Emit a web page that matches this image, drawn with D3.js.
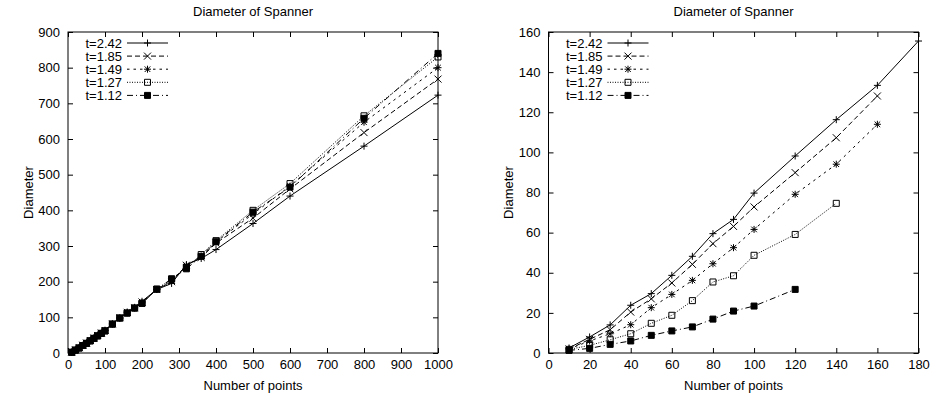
<!DOCTYPE html>
<html>
<head>
<meta charset="utf-8">
<script src="https://cdn.jsdelivr.net/npm/d3@7"></script>
<style>
  body { margin: 0; background: #fff; }
</style>
</head>
<body>
<svg id="chart" width="932" height="394"></svg>
<script>
// ---- data ----
const seriesLabels = ['t=2.42', 't=1.85', 't=1.49', 't=1.27', 't=1.12'];

// left panel: up to 1000 points
const leftPoints = [10, 20, 30, 40, 50, 60, 70, 80, 90, 100, 120, 140, 160, 180, 200, 240, 280, 320, 360, 400, 500, 600, 800, 1000];
const leftT242 = [3, 9, 15, 22, 28, 35, 42, 50, 56, 64, 82, 98, 115, 128, 145, 178, 195, 248, 265, 290, 363, 440, 580, 723];
const leftT185 = [3, 9, 15, 22, 28, 35, 42, 49, 56, 63, 82, 99, 114, 127, 143, 178, 200, 246, 268, 308, 378, 460, 618, 768];
const leftT149 = [2, 8, 14, 21, 28, 34, 42, 49, 55, 63, 81, 98, 113, 126, 141, 178, 203, 245, 272, 311, 390, 468, 647, 800];
const leftT127 = [2, 8, 14, 21, 27, 34, 41, 48, 55, 62, 81, 98, 112, 126, 140, 179, 207, 240, 276, 315, 400, 475, 665, 830];
const leftT112 = [2, 8, 14, 21, 27, 34, 41, 48, 55, 62, 81, 98, 112, 126, 139, 179, 208, 236, 271, 312, 395, 465, 658, 840];

// right panel: small instances
const rightPoints = [10, 20, 30, 40, 50, 60, 70, 80, 90, 100, 120, 140, 160, 180];
const rightT242 = [2.5, 8, 14, 23.8, 29.6, 38.7, 48.2, 59.5, 66.6, 79.7, 98.2, 116.3, 133.4, 155.5];
const rightT185 = [2, 6.8, 11.6, 20.4, 27, 34.9, 44.2, 54.5, 63.1, 72.8, 89.9, 107.3, 128.1];
const rightT149 = [2, 6, 9.6, 14.1, 22.6, 29.2, 36.2, 44.5, 52.5, 61.6, 79.1, 94.1, 114];
const rightT127 = [1.8, 3.8, 6.6, 9.6, 14.8, 18.8, 26.1, 35.4, 38.5, 48.7, 59.1, 74.6];
const rightT112 = [1.3, 2.3, 4.3, 6, 8.8, 11, 13, 16.9, 20.9, 23.4, 31.7];

const leftXTicks = [0, 100, 200, 300, 400, 500, 600, 700, 800, 900, 1000];
const leftYTicks = [0, 100, 200, 300, 400, 500, 600, 700, 800, 900];
const rightXTicks = [0, 20, 40, 60, 80, 100, 120, 140, 160, 180];
const rightYTicks = [0, 20, 40, 60, 80, 100, 120, 140, 160];

// ---- styles (gnuplot-like) ----
const FONT = '"Liberation Sans", Arial, Helvetica, sans-serif';
const lineDash = [null, '5,3', '2.5,4', '1,1.5', '6,3,1,3'];
const markerShape = ['plus', 'cross', 'star', 'box', 'filledBox'];

function markerPath(shape) {
  const s = 3.5, b = 3;
  if (shape === 'plus') return `M${-s},0H${s}M0,${-s}V${s}`;
  if (shape === 'cross') return `M${-s},${-s}L${s},${s}M${-s},${s}L${s},${-s}`;
  if (shape === 'star') return `M${-s},0H${s}M0,${-s}V${s}M${-s * 0.8},${-s * 0.8}L${s * 0.8},${s * 0.8}M${-s * 0.8},${s * 0.8}L${s * 0.8},${-s * 0.8}`;
  return `M${-b},${-b}H${b}V${b}H${-b}Z`;
}

const svg = d3.select('#chart');

function addText(parent) {
  return parent.append('text')
    .style('font-family', FONT)
    .style('font-size', '13px')
    .attr('fill', '#000');
}

function drawPanel(cfg) {
  const width = cfg.right - cfg.left;
  const height = cfg.bottom - cfg.top;
  const g = svg.append('g').attr('transform', `translate(${cfg.left},${cfg.top})`);

  const x = d3.scaleLinear().domain([cfg.xTicks[0], cfg.xTicks[cfg.xTicks.length - 1]]).range([0, width]);
  const y = d3.scaleLinear().domain([cfg.yTicks[0], cfg.yTicks[cfg.yTicks.length - 1]]).range([height, 0]);

  // axes with inward ticks, mirrored on top/right
  const styleAxis = (sel) => {
    sel.select('.domain').remove();
    sel.selectAll('line').attr('stroke', '#000');
    sel.selectAll('text')
      .style('font-family', FONT)
      .style('font-size', '13px')
      .attr('fill', '#000');
  };
  g.append('g').attr('transform', `translate(0,${height})`)
    .call(d3.axisBottom(x).tickValues(cfg.xTicks).tickFormat(d3.format('d'))
      .tickSizeInner(-5).tickSizeOuter(0).tickPadding(7))
    .call(styleAxis);
  g.append('g')
    .call(d3.axisLeft(y).tickValues(cfg.yTicks).tickFormat(d3.format('d'))
      .tickSizeInner(-5).tickSizeOuter(0).tickPadding(8))
    .call(styleAxis);
  g.append('g')
    .call(d3.axisTop(x).tickValues(cfg.xTicks).tickSizeInner(-5).tickSizeOuter(0).tickFormat(''))
    .call(styleAxis);
  g.append('g').attr('transform', `translate(${width},0)`)
    .call(d3.axisRight(y).tickValues(cfg.yTicks).tickSizeInner(-5).tickSizeOuter(0).tickFormat(''))
    .call(styleAxis);

  g.append('rect')
    .attr('width', width).attr('height', height)
    .attr('fill', 'none').attr('stroke', '#000').attr('stroke-width', 1);

  const line = d3.line().x((d) => x(d[0])).y((d) => y(d[1]));

  cfg.series.forEach((vals, i) => {
    const pts = vals.map((v, k) => [cfg.xs[k], v]);
    g.append('path')
      .datum(pts)
      .attr('d', line)
      .attr('fill', 'none')
      .attr('stroke', '#000')
      .attr('stroke-width', 1)
      .attr('stroke-dasharray', lineDash[i]);

    g.selectAll(null)
      .data(pts)
      .enter()
      .append('path')
      .attr('transform', (d) => `translate(${x(d[0])},${y(d[1])})`)
      .attr('d', markerPath(markerShape[i]))
      .attr('fill', markerShape[i] === 'filledBox' ? '#000' : 'none')
      .attr('stroke', '#000')
      .attr('stroke-width', 1);
  });

  // legend
  const legend = g.append('g').attr('transform', 'translate(0,11)');
  seriesLabels.forEach((label, i) => {
    const row = legend.append('g').attr('transform', `translate(0,${i * 13.1})`);
    addText(row)
      .attr('x', 54).attr('dy', '0.35em')
      .attr('text-anchor', 'end')
      .text(label);
    row.append('line')
      .attr('x1', 59).attr('x2', 100)
      .attr('stroke', '#000').attr('stroke-width', 1)
      .attr('stroke-dasharray', lineDash[i]);
    row.append('path')
      .attr('transform', 'translate(79.5,0)')
      .attr('d', markerPath(markerShape[i]))
      .attr('fill', markerShape[i] === 'filledBox' ? '#000' : 'none')
      .attr('stroke', '#000');
  });

  // titles
  addText(svg)
    .attr('x', cfg.left + width / 2).attr('y', 16)
    .attr('text-anchor', 'middle')
    .text('Diameter of Spanner');
  addText(svg)
    .attr('x', cfg.left + width / 2).attr('y', 389.5)
    .attr('text-anchor', 'middle')
    .text('Number of points');
  addText(svg)
    .attr('transform', `translate(${cfg.left - 40},${cfg.top + height / 2}) rotate(-90)`)
    .attr('dy', '0.35em')
    .attr('text-anchor', 'middle')
    .text('Diameter');
}

drawPanel({
  left: 68, right: 438, top: 32, bottom: 353,
  xTicks: leftXTicks, yTicks: leftYTicks, xs: leftPoints,
  series: [leftT242, leftT185, leftT149, leftT127, leftT112],
});

drawPanel({
  left: 548.5, right: 918.5, top: 32, bottom: 353,
  xTicks: rightXTicks, yTicks: rightYTicks, xs: rightPoints,
  series: [rightT242, rightT185, rightT149, rightT127, rightT112],
});
</script>
</body>
</html>
